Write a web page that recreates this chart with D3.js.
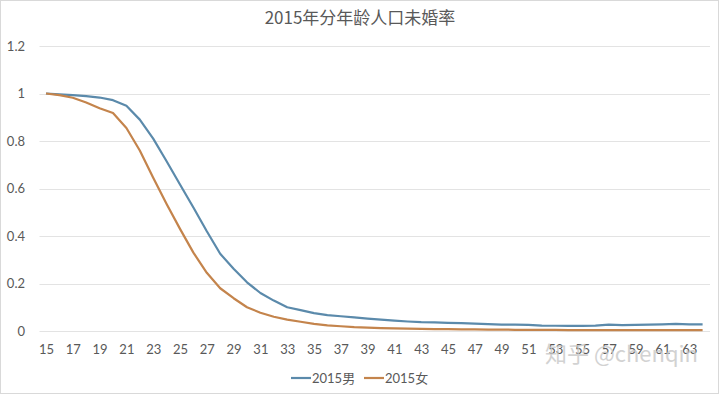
<!DOCTYPE html>
<html><head><meta charset="utf-8">
<script src="https://cdn.jsdelivr.net/npm/d3@7"></script>
<style>body{margin:0;background:#fff;} svg{display:block;}</style>
</head><body>
<svg id="c" width="720" height="395"></svg>
<script>
const ages = d3.range(15, 65);
const seriesNames = ["2015男", "2015女"];
const male = [1.0,0.996,0.993,0.989,0.983,0.972,0.948,0.89,0.81,0.715,
  0.617,0.52,0.42,0.325,0.262,0.205,0.16,0.128,0.10,0.088,
  0.075,0.067,0.062,0.057,0.052,0.048,0.044,0.04,0.037,0.036,
  0.034,0.033,0.031,0.029,0.027,0.027,0.026,0.023,0.022,0.022,
  0.022,0.023,0.027,0.025,0.026,0.027,0.028,0.030,0.028,0.028];
const female = [1.0,0.993,0.982,0.962,0.938,0.918,0.855,0.76,0.645,0.535,
  0.43,0.33,0.245,0.18,0.138,0.10,0.077,0.06,0.048,0.039,
  0.03,0.024,0.02,0.016,0.014,0.012,0.011,0.01,0.009,0.008,
  0.008,0.007,0.007,0.006,0.006,0.005,0.005,0.005,0.005,0.004,
  0.004,0.004,0.004,0.004,0.004,0.004,0.004,0.004,0.004,0.004];
const yTicks = [0, 0.2, 0.4, 0.6, 0.8, 1, 1.2];
const xTickLabels = ages.filter(a => a % 2 === 1);
const title = "2015年分年龄人口未婚率";
const colors = ["#5b8aab", "#c4844c"];

const svg = d3.select("#c");
svg.append("rect").attr("x",0.5).attr("y",0.5).attr("width",718).attr("height",393)
  .attr("fill","#fff").attr("stroke","#d9d9d9");

const x = d3.scalePoint().domain(ages).range([46, 702.6]);
const y = d3.scaleLinear().domain([0, 1.2]).range([331, 46]);
const gridX0 = 39.5, gridX1 = 710;

// grid
svg.append("g").selectAll("line").data(yTicks).join("line")
  .attr("x1", gridX0).attr("x2", gridX1)
  .attr("y1", d => Math.round(y(d)) + 0.5).attr("y2", d => Math.round(y(d)) + 0.5)
  .attr("stroke", "#e3e3e3").attr("stroke-width", 1);

// y axis labels
const yAxis = d3.axisLeft(y).tickValues(yTicks).tickSize(0).tickPadding(0)
  .tickFormat(d => d3.format("")(+d.toFixed(1)));
const gy = svg.append("g").attr("transform", "translate(25,0)").call(yAxis);
gy.select(".domain").remove();
gy.selectAll("text").attr("font-family", "Lato, 'Noto Sans', sans-serif").attr("font-size", 13)
  .attr("fill", "#595959");

// x axis labels
const xAxis = d3.axisBottom(x).tickValues(xTickLabels).tickSize(0).tickPadding(0);
const gx = svg.append("g").attr("transform", "translate(0,345)").call(xAxis);
gx.select(".domain").remove();
gx.selectAll("text").attr("font-family", "Lato, 'Noto Sans', sans-serif").attr("font-size", 13)
  .attr("fill", "#595959");

// lines
const line = d3.line().x((d, i) => x(ages[i])).y(d => y(d));
[male, female].forEach((s, i) => {
  svg.append("path").datum(s).attr("d", line).attr("fill", "none")
    .attr("stroke", colors[i]).attr("stroke-width", 2.2).attr("stroke-linejoin", "round");
});

// title
svg.append("text").attr("x", 360).attr("y", 24).attr("text-anchor", "middle")
  .attr("font-family", "'Noto Sans CJK SC', sans-serif").attr("font-size", 17)
  .attr("fill", "#595959").text(title);

// legend
const legX = [291, 364];
seriesNames.forEach((n, i) => {
  const g = svg.append("g").attr("transform", `translate(${legX[i]},378)`);
  g.append("line").attr("x1", 0).attr("x2", 20).attr("y1", 0).attr("y2", 0)
    .attr("stroke", colors[i]).attr("stroke-width", 2.2);
  g.append("text").attr("x", 21).attr("y", 5).attr("font-family", "Lato, 'Noto Sans CJK SC', sans-serif")
    .attr("font-size", 13).attr("fill", "#595959").text(n);
});

// watermark (overlaps the last tick labels, as in the reference)
svg.append("text").attr("x", 545).attr("y", 362)
  .attr("font-family", "'Noto Sans CJK SC', sans-serif").attr("font-size", 22)
  .attr("fill", "#c8c8c8").attr("opacity", 0.8).text("知乎 @chenqin");
</script>
</body></html>
